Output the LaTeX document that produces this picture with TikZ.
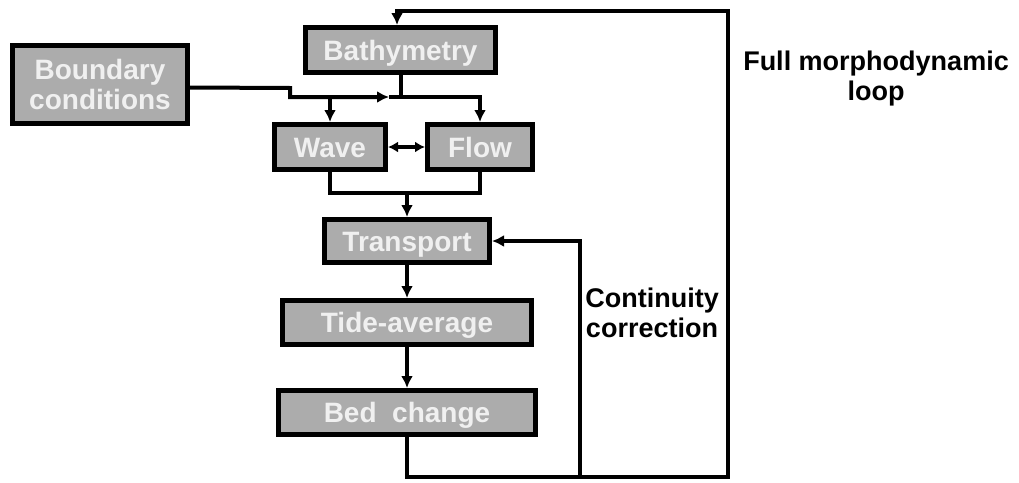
\documentclass[tikz,border=0pt]{standalone}
\usepackage{fontspec}
\setmainfont{Liberation Sans}
\usetikzlibrary{positioning}
\usetikzlibrary{arrows.meta}
\usetikzlibrary{calc}

\definecolor{boxgray}{RGB}{172,172,172}
\definecolor{boxtext}{RGB}{240,240,240}

\tikzset{
	stepbox/.style = {fill = boxgray, draw, line width = 5pt, rectangle, text = boxtext, inner sep = 0pt, align = center, font = \fontsize{28}{30}\selectfont\bfseries},
	onerow/.style = {text height = 20pt, text depth = 0pt},
	conn/.style = {line width = 4pt},
	arr/.style = {conn, -{Latex[length=12pt,width=12pt]}},
	lbl/.style = {align = center, font = \fontsize{27}{30}\selectfont\bfseries}
}

\begin{document}
\begin{tikzpicture}[x=1pt, y=-1pt]
		\useasboundingbox (0,0) rectangle (1019,482);
		% boxes
		\node[stepbox, onerow, minimum width = 190pt, minimum height = 45pt] at (400.5,50) (bathy) {Bathymetry};
		\node[stepbox, minimum width = 175pt, minimum height = 78pt] at (100,84.5) (bound) {Boundary\\conditions};
		\node[stepbox, onerow, minimum width = 111pt, minimum height = 45pt] at (330,147) (wave) {Wave};
		\node[stepbox, onerow, right = 37pt of wave, minimum width = 105pt, minimum height = 45pt] (flow) {Flow};
		\node[stepbox, onerow, minimum width = 165pt, minimum height = 43pt] at (407,241) (trans) {Transport};
		\node[stepbox, onerow, below = 33pt of trans, minimum width = 249pt, minimum height = 44pt] (tide) {Tide-average};
		\node[stepbox, onerow, below = 41pt of tide, minimum width = 257pt, minimum height = 44pt] (bed) {Bed\ \ change};
		% corners of the connectors
		\coordinate (split) at (400.5,97);
		\coordinate (bendtop) at (290,88);
		\coordinate (bend) at (290,97);
		\coordinate (midarr) at (389,97);
		\coordinate (merge) at (407,193);
		\coordinate (loopbr) at (728,477);
		\coordinate (looptr) at (728,11);
		\coordinate (corr) at (580,477);
		% connectors
		\draw[conn] (bathy.south) -- (split);
		\draw[arr] ([yshift=-3pt]bound.east) -- (bendtop) -- (bend) -- (midarr);
		\draw[arr] (midarr) -| (flow.north);
		\draw[arr] (wave.north |- split) -- (wave.north);
		\draw[conn, {Latex[length=10pt,width=11pt]}-{Latex[length=10pt,width=11pt]}] (wave.east) -- (flow.west);
		\draw[conn] (wave.south) |- (flow.south |- merge) -- (flow.south);
		\draw[arr] (merge) -- (trans.north);
		\draw[arr] (trans.south) -- (trans.south |- tide.north);
		\draw[arr] (tide.south) -- (tide.south |- bed.north);
		\draw[arr] (bed.south) |- (loopbr) -- (looptr) -| ([xshift=-3.5pt]bathy.north);
		\draw[arr] (corr) |- (trans.east);
		% labels
		\node[lbl] at (876,79) (fullloop) {Full morphodynamic\\loop};
		\node[lbl] at (652,313) (contcorr) {Continuity\\correction};
	\end{tikzpicture}
\end{document}
